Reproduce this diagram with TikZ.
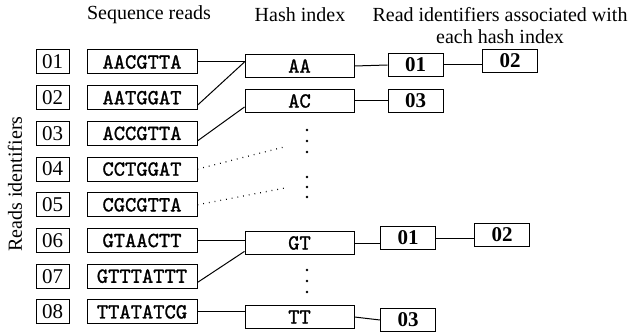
\documentclass[tikz,border=0pt]{standalone}
\usepackage{fontspec}
\setmainfont{Liberation Serif}
\newfontfamily\seqfont{lmmono10-regular.otf}[FakeBold=1.2]
\usetikzlibrary{calc}

\begin{document}
\begin{tikzpicture}[x=1pt, y=-1pt,
              every node/.style = {font=\fontsize{20}{22}\selectfont},
              idbox/.style = {draw, line width=1pt, inner sep=0pt,
                              minimum width=33pt, minimum height=24pt,
                              font=\fontsize{21}{22}\selectfont},
              seqbox/.style = {idbox, minimum width=110pt,
                               font=\fontsize{21.5}{22}\selectfont\seqfont},
              hashbox/.style = {seqbox, minimum width=109pt, minimum height=23pt},
              refbox/.style = {idbox, minimum width=55pt, minimum height=23pt,
                               font=\fontsize{21}{22}\selectfont\bfseries},
              link/.style = {line width=1pt},
              dotlink/.style = {line width=1.2pt, dash pattern=on 0.8pt off 5pt}]
  \useasboundingbox (0,0) rectangle (635,334);

  % headers
  \node (hseq) at (149,15) {Sequence reads};
  \node (hhash) at (300,15) {Hash index};
  \node[align=center] (href) at (500,26) {Read identifiers associated with\\each hash index};
  \node[rotate=90] (hid) at (15,184) {Reads identifiers};

  % read identifiers
  \node[idbox] (i1) at (52.5,62) {01};
  \node[idbox] (i2) at (52.5,97.7) {02};
  \node[idbox] (i3) at (52.5,133.4) {03};
  \node[idbox] (i4) at (52.5,169.1) {04};
  \node[idbox] (i5) at (52.5,204.8) {05};
  \node[idbox] (i6) at (52.5,240.5) {06};
  \node[idbox] (i7) at (52.5,276.2) {07};
  \node[idbox] (i8) at (52.5,311.9) {08};

  % sequence reads
  \node[seqbox] (s1) at (142,62) {AACGTTA};
  \node[seqbox] (s2) at (142,97.7) {AATGGAT};
  \node[seqbox] (s3) at (142,133.4) {ACCGTTA};
  \node[seqbox] (s4) at (142,169.1) {CCTGGAT};
  \node[seqbox] (s5) at (142,204.8) {CGCGTTA};
  \node[seqbox] (s6) at (142,240.5) {GTAACTT};
  \node[seqbox] (s7) at (142,276.2) {GTTTATTT};
  \node[seqbox] (s8) at (142,311.9) {TTATATCG};

  % hash index
  \node[hashbox] (aa) at (299.5,66) {AA};
  \node[hashbox] (ac) at (299.5,101) {AC};
  \node[hashbox] (gt) at (299.5,243) {GT};
  \node[hashbox] (tt) at (299.5,317) {TT};

  % identifiers per hash
  \node[refbox] (aa1) at (415.5,65) {01};
  \node[refbox] (aa2) at (510,61) {02};
  \node[refbox] (ac1) at (415.5,101) {03};
  \node[refbox] (gt1) at (408,238) {01};
  \node[refbox] (gt2) at (502,235) {02};
  \node[refbox] (tt1) at (408,320) {03};

  % reads to hash
  \draw[link] (s1.east) -- (s1.east -| aa.west);
  \draw[link] ($(s2.south east)!0.2!(s2.north east)$) -- (s1.east -| aa.west);
  \draw[link] ($(s3.south east)!0.2!(s3.north east)$) -- ($(ac.south west)!0.25!(ac.north west)$);
  \draw[link] (s6.east) -- (s6.east -| gt.west);
  \draw[link] ($(s7.south east)!0.25!(s7.north east)$) -- ($(gt.south west)!0.15!(gt.north west)$);
  \draw[link] (s8.east) -- (s8.east -| tt.west);

  \coordinate (e4) at (284,147);
  \coordinate (e5) at (285,188);
  \draw[dotlink] (s4.east) -- (e4);
  \draw[dotlink] (s5.east) -- (e5);

  % hash to identifiers
  \draw[link] (aa.east) -- (aa1.west);
  \draw[link] (aa1.east) -- (aa1.east -| aa2.west);
  \draw[link] (ac.east) -- (ac1.west);
  \draw[link] (gt.east) -- (gt.east -| gt1.west);
  \draw[link] (gt1.east) -- (gt1.east -| gt2.west);
  \draw[link] (tt.east) -- (tt1.west);

  % vertical dots
  \coordinate (d1) at (307,141);
  \coordinate (d2) at (307,187);
  \coordinate (d3) at (307,281);
  \fill (d1) +(0,-11) circle (1.3) (d1) circle (1.3) (d1) +(0,11) circle (1.3);
  \fill (d2) +(0,-10) circle (1.3) (d2) circle (1.3) (d2) +(0,10) circle (1.3);
  \fill (d3) +(0,-11) circle (1.3) (d3) circle (1.3) (d3) +(0,11) circle (1.3);
\end{tikzpicture}
\end{document}
